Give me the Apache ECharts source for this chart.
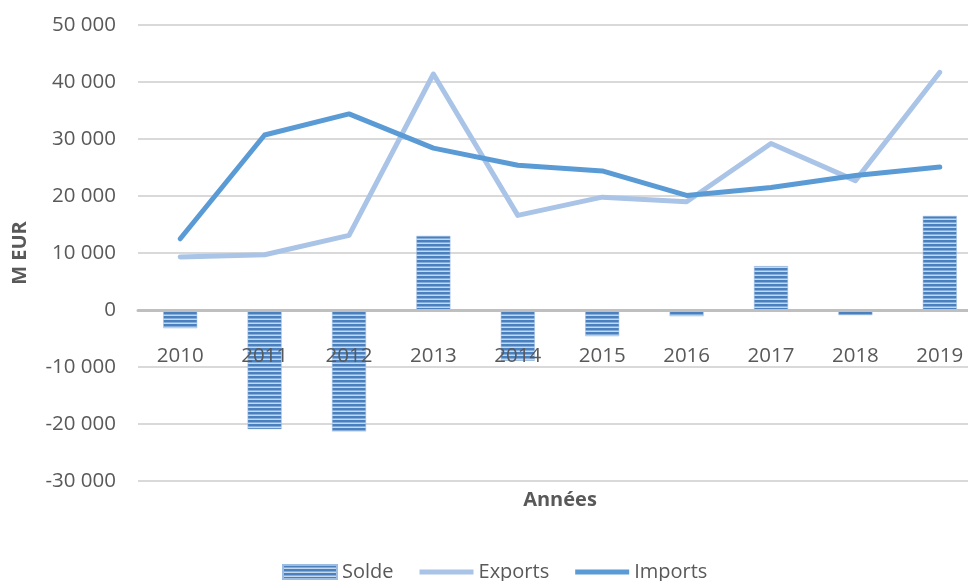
<!DOCTYPE html>
<html><head><meta charset="utf-8">
<script src="https://cdn.jsdelivr.net/npm/echarts@6/dist/echarts.min.js"></script>
<style>html,body{margin:0;padding:0;background:#fff}#c{width:968px;height:581px}</style>
</head><body><div id="c"></div>
<script>
const years = ['2010','2011','2012','2013','2014','2015','2016','2017','2018','2019'];
const solde = [-3200, -20900, -21300, 13000, -8900, -4600, -1100, 7700, -900, 16500];
const exportsData = [9300, 9700, 13100, 41400, 16600, 19800, 19000, 29200, 22700, 41700];
const importsData = [12500, 30700, 34400, 28400, 25400, 24400, 20100, 21500, 23600, 25100];
const yTicks = [-30000, 50000, 10000];

function stripes(){
  const c = document.createElement('canvas');
  c.width = 4; c.height = 4;
  const g = c.getContext('2d');
  g.fillStyle = '#c4d8ee'; g.fillRect(0,0,4,4);
  g.fillStyle = '#4a80be'; g.fillRect(0,0,4,2);
  g.fillStyle = '#86acd9'; g.fillRect(0,2,4,1);
  return c;
}
const pat = {image: stripes(), repeat: 'repeat'};
const fmt = v => {
  const s = Math.abs(v).toString().replace(/\B(?=(\d{3})+(?!\d))/g, ' ');
  return (v < 0 ? '-' : '') + s;
};
const font = '"Open Sans", "Liberation Sans", sans-serif';
const gridTop = 25, gridBottom = 100, H = 581;
const plotH = H - gridTop - gridBottom;
const zeroOffset = plotH * (0 - yTicks[0]) / (yTicks[1] - yTicks[0]);
const lineIcon = 'path://M0,0 L54,0 L54,5 L0,5 Z';
const chart = echarts.init(document.getElementById('c'));
chart.setOption({
  animation: false,
  textStyle: {fontFamily: font},
  grid: {left: 138, width: 844, top: gridTop, bottom: gridBottom, containLabel: false, outerBoundsMode: 'none'},
  legend: {
    top: 557, left: 277, itemGap: 26, itemWidth: 54, itemHeight: 14,
    textStyle: {fontSize: 20, color: '#595959', fontFamily: font},
    data: [
      {name: 'Solde', icon: 'rect'},
      {name: 'Exports', icon: lineIcon},
      {name: 'Imports', icon: lineIcon}
    ]
  },
  xAxis: {
    type: 'category', data: years, z: 10,
    offset: -zeroOffset,
    axisLine: {onZero: false, lineStyle: {color: '#bfbfbf', width: 3}},
    axisTick: {show: false},
    axisLabel: {fontSize: 20.5, color: '#595959', margin: 36, fontFamily: font},
    name: 'Années', nameLocation: 'middle', nameGap: 180,
    nameTextStyle: {fontSize: 20, fontWeight: 'bold', color: '#595959', fontFamily: font}
  },
  yAxis: {
    type: 'value', min: yTicks[0], max: yTicks[1], interval: yTicks[2],
    axisLine: {show: false}, axisTick: {show: false},
    splitLine: {lineStyle: {color: '#d9d9d9', width: 2}},
    axisLabel: {fontSize: 20.5, color: '#595959', margin: 22, formatter: fmt, fontFamily: font},
    name: 'M EUR', nameLocation: 'middle', nameGap: 108, nameRotate: 90,
    nameTextStyle: {fontSize: 20, fontWeight: 'bold', color: '#595959', fontFamily: font}
  },
  series: [
    {name: 'Solde', type: 'bar', data: solde, barWidth: 34,
     itemStyle: {color: pat, borderColor: '#9cbce2', borderWidth: 0.5}},
    {name: 'Exports', type: 'line', data: exportsData, symbol: 'none', z: 3,
     itemStyle: {color: '#a9c4e6'},
     lineStyle: {color: '#a9c4e6', width: 5, cap: 'round', join: 'round'}},
    {name: 'Imports', type: 'line', data: importsData, symbol: 'none', z: 4,
     itemStyle: {color: '#5b9bd5'},
     lineStyle: {color: '#5b9bd5', width: 5, cap: 'round', join: 'round'}}
  ]
});
</script></body></html>
